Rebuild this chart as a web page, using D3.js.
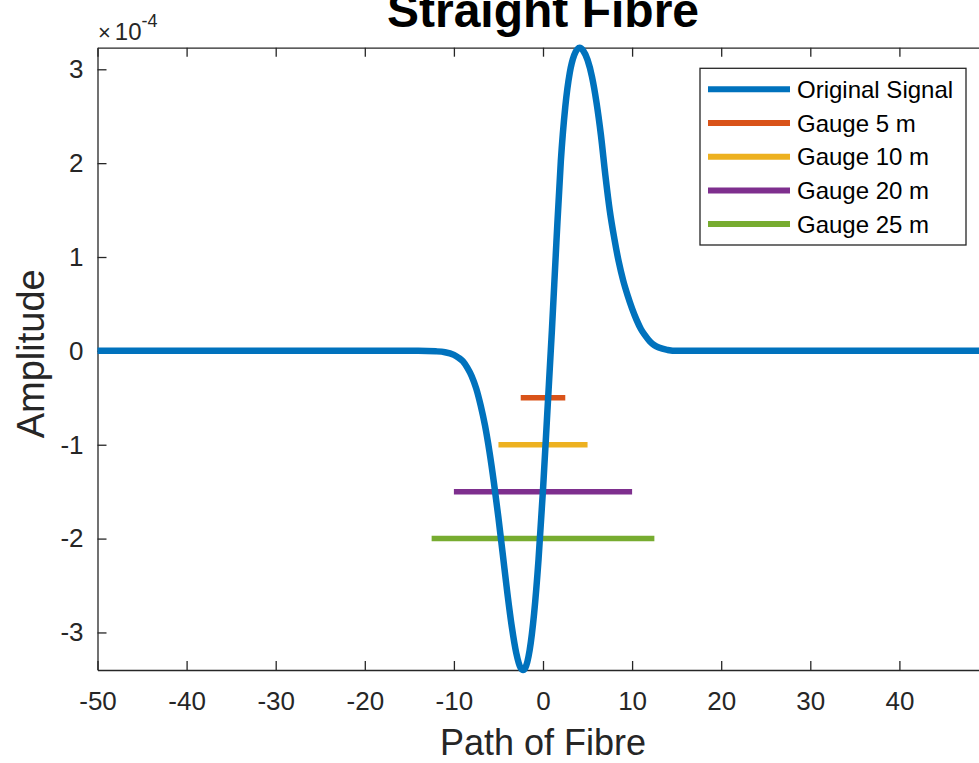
<!DOCTYPE html>
<html>
<head>
<meta charset="utf-8">
<script src="https://cdn.jsdelivr.net/npm/d3@7"></script>
<style>
  body { margin: 0; background: #fff; }
  svg { font-family: "Liberation Sans", Arial, Helvetica, sans-serif; }
</style>
</head>
<body>
<svg id="chart"></svg>
<script>
// path positions (m) and amplitude (x 1e-4)
const pathX = [-50, -20, -14, -12, -11, -10, -9.5, -9, -8.5, -8, -7.5, -7, -6.5, -6, -5.5, -5, -4.5, -4, -3.5, -3, -2.5, -2.24, -2, -1.5, -1, -0.5, 0, 0.5, 1, 1.5, 2, 2.5, 3, 3.5, 4.12, 4.5, 5, 5.5, 6, 6.5, 7, 7.5, 8, 8.5, 9, 9.5, 10, 10.5, 11, 11.5, 12, 12.5, 13, 14, 15, 20, 50]
const signal = [0, 0, 0, -0.005, -0.014, -0.043, -0.071, -0.11, -0.179, -0.27, -0.40, -0.58, -0.80, -1.08, -1.41, -1.78, -2.18, -2.58, -2.94, -3.22, -3.38, -3.40, -3.38, -3.19, -2.80, -2.22, -1.48, -0.63, 0.22, 1.15, 2.02, 2.6, 2.96, 3.15, 3.23, 3.2, 3.1, 2.92, 2.65, 2.3, 1.87, 1.49, 1.2, 0.95, 0.75, 0.59, 0.45, 0.33, 0.23, 0.16, 0.1, 0.06, 0.035, 0.01, 0, 0, 0]

const gaugeNames = ['Gauge 5 m', 'Gauge 10 m', 'Gauge 20 m', 'Gauge 25 m']
const gaugeLengths = [5, 10, 20, 25]
const gaugeLevels = [-0.5, -1, -1.5, -2]
const gaugeColors = ['#D95319', '#EDB120', '#7E2F8E', '#77AC30']

const xTicks = [-50, -40, -30, -20, -10, 0, 10, 20, 30, 40]
const yTicks = [-3, -2, -1, 0, 1, 2, 3]

const
    width = 979,
    height = 763,
    LEFT = 97.5,
    RIGHT = 988.5,
    TOP = 47.7,
    BOTTOM = 670,
    axisColor = '#262626'

const svg = d3.select('#chart')
    .attr('width', width)
    .attr('height', height)

const x = d3.scaleLinear().domain([-50, 50]).range([LEFT, RIGHT])
const y = d3.scaleLinear().domain([-3.4, 3.23]).range([BOTTOM, TOP])

const fmt = d => String(d)

// axes (MATLAB box style, ticks pointing inward)
const xAxis = svg.append('g')
    .attr('transform', `translate(0,${BOTTOM})`)
    .call(d3.axisBottom(x).tickValues(xTicks).tickSize(-9).tickSizeOuter(0).tickPadding(21.5).tickFormat(fmt))
const topAxis = svg.append('g')
    .attr('transform', `translate(0,${TOP})`)
    .call(d3.axisTop(x).tickValues(xTicks).tickSize(-9).tickSizeOuter(0).tickFormat(''))
const yAxis = svg.append('g')
    .attr('transform', `translate(${LEFT},0)`)
    .call(d3.axisLeft(y).tickValues(yTicks).tickSize(-9).tickSizeOuter(0).tickPadding(14).tickFormat(fmt))
const rightAxis = svg.append('g')
    .attr('transform', `translate(${RIGHT},0)`)
    .call(d3.axisRight(y).tickValues(yTicks).tickSize(-9).tickSizeOuter(0).tickFormat(''))

svg.selectAll('.domain, .tick line')
    .attr('stroke', axisColor)
    .attr('stroke-width', 1.3)
svg.selectAll('.tick text')
    .attr('fill', axisColor)
    .attr('font-size', 26)
    .attr('font-family', '"Liberation Sans", Arial, sans-serif')

// exponent label
const expo = svg.append('text')
    .attr('x', 98)
    .attr('y', 40)
    .attr('fill', axisColor)
    .attr('font-size', 24)
expo.append('tspan').text('\u00d7').attr('font-size', 22)
expo.append('tspan').text('10').attr('dx', 4)
expo.append('tspan').text('-4').attr('font-size', 18).attr('dy', -13)

// gauge bars
gaugeLengths.forEach((g, i) => {
    svg.append('line')
        .attr('x1', x(-g / 2))
        .attr('x2', x(g / 2))
        .attr('y1', y(gaugeLevels[i]))
        .attr('y2', y(gaugeLevels[i]))
        .attr('stroke', gaugeColors[i])
        .attr('stroke-width', 5.5)
})

// original signal
const line = d3.line()
    .x((d, i) => x(pathX[i]))
    .y(d => y(d))
    .curve(d3.curveMonotoneX)

svg.append('path')
    .datum(signal)
    .attr('d', line)
    .attr('fill', 'none')
    .attr('stroke', '#0072BD')
    .attr('stroke-width', 6.5)
    .attr('stroke-linejoin', 'round')

// title and axis labels
svg.append('text')
    .text('Straight Fibre')
    .attr('x', (LEFT + RIGHT) / 2)
    .attr('y', 27)
    .attr('text-anchor', 'middle')
    .attr('font-size', 48)
    .attr('font-weight', 'bold')
    .attr('fill', '#000')

svg.append('text')
    .text('Path of Fibre')
    .attr('x', (LEFT + RIGHT) / 2)
    .attr('y', 755)
    .attr('text-anchor', 'middle')
    .attr('font-size', 36)
    .attr('fill', axisColor)

svg.append('text')
    .text('Amplitude')
    .attr('transform', `translate(44,${(TOP + BOTTOM) / 2 - 5}) rotate(-90)`)
    .attr('text-anchor', 'middle')
    .attr('font-size', 38)
    .attr('fill', axisColor)

// legend
const legendNames = ['Original Signal'].concat(gaugeNames)
const legendColors = ['#0072BD'].concat(gaugeColors)
const legend = svg.append('g')

legend.append('rect')
    .attr('x', 700)
    .attr('y', 68.3)
    .attr('width', 266)
    .attr('height', 176.7)
    .attr('fill', '#fff')
    .attr('stroke', axisColor)
    .attr('stroke-width', 1.3)

legendNames.forEach((name, i) => {
    const ly = 89.3 + i * 33.7
    legend.append('line')
        .attr('x1', 708)
        .attr('x2', 790)
        .attr('y1', ly)
        .attr('y2', ly)
        .attr('stroke', legendColors[i])
        .attr('stroke-width', 6)
    legend.append('text')
        .text(name)
        .attr('x', 797)
        .attr('y', ly + 8.5)
        .attr('font-size', 24)
        .attr('fill', '#000')
})
</script>
</body>
</html>
